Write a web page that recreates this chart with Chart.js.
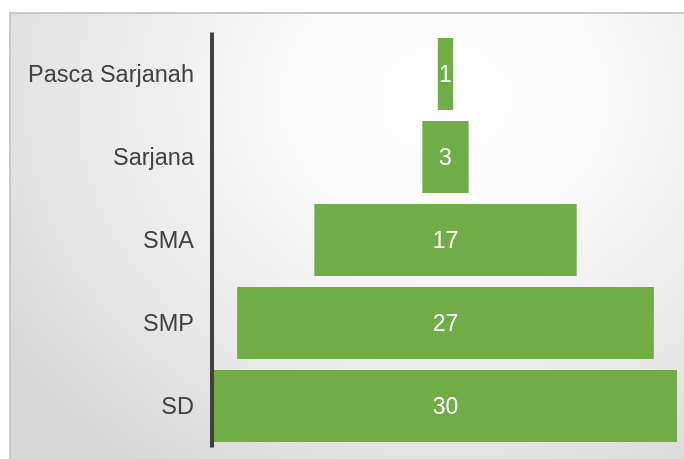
<!DOCTYPE html>
<html>
<head>
<meta charset="utf-8">
<script src="https://cdn.jsdelivr.net/npm/chart.js@4/dist/chart.umd.min.js"></script>
<style>
  html, body { margin: 0; padding: 0; width: 684px; height: 459px; overflow: hidden; background: #ffffff; }
  #frame {
    position: absolute; left: 9px; top: 12px; width: 700px; height: 470px;
    border: 2px solid #c8c8c8;
    background: radial-gradient(ellipse 75% 95% at 62% 18%, #ffffff 0%, #fafafa 30%, #e8e8e8 70%, #d8d8d8 100%);
  }
  #c { position: absolute; left: 0; top: 0; }
</style>
</head>
<body>
<div id="frame"></div>
<canvas id="c" width="684" height="459"></canvas>
<script>
const categories = ["Pasca Sarjanah", "Sarjana", "SMA", "SMP", "SD"];
const values = [1, 3, 17, 27, 30];
const maxValue = 30;

const axisLinePlugin = {
  id: 'axisLine',
  afterDatasetsDraw(chart) {
    const ctx = chart.ctx, a = chart.chartArea;
    ctx.save();
    ctx.strokeStyle = '#404040';
    ctx.lineWidth = 4;
    ctx.beginPath();
    ctx.moveTo(a.left - 2, a.top);
    ctx.lineTo(a.left - 2, a.bottom);
    ctx.stroke();
    ctx.restore();
  }
};

const valueLabelPlugin = {
  id: 'valueLabels',
  afterDatasetsDraw(chart) {
    const ctx = chart.ctx;
    const meta = chart.getDatasetMeta(0);
    ctx.save();
    ctx.fillStyle = '#ffffff';
    ctx.font = '23px "Liberation Sans", Arial, sans-serif';
    ctx.textAlign = 'center';
    ctx.textBaseline = 'middle';
    meta.data.forEach((bar, i) => {
      const p = bar.getProps(['x', 'y', 'base'], true);
      ctx.fillText(String(values[i]), (p.x + p.base) / 2, p.y + 2);
    });
    ctx.restore();
  }
};

new Chart(document.getElementById('c'), {
  type: 'bar',
  data: {
    labels: categories,
    datasets: [{
      data: values.map(v => [maxValue / 2 - v / 2, maxValue / 2 + v / 2]),
      backgroundColor: '#70AD47',
      borderWidth: 0,
      categoryPercentage: 1,
      barPercentage: 72 / 83
    }]
  },
  options: {
    indexAxis: 'y',
    responsive: false,
    animation: false,
    layout: { padding: { left: 0, right: 7, top: 32.5, bottom: 11.5 } },
    plugins: { legend: { display: false }, tooltip: { enabled: false } },
    scales: {
      x: { display: false, min: 0, max: maxValue },
      y: {
        grid: { display: false, drawTicks: false },
        border: { display: false },
        ticks: {
          padding: 20,
          labelOffset: 2,
          color: '#404040',
          font: { family: '"Liberation Sans", Arial, sans-serif', size: 23.5 }
        },
        afterFit(scale) {
          scale.width = 214;
          scale.paddingTop = 0;
          scale.paddingBottom = 0;
        }
      }
    }
  },
  plugins: [axisLinePlugin, valueLabelPlugin]
});
</script>
</body>
</html>
